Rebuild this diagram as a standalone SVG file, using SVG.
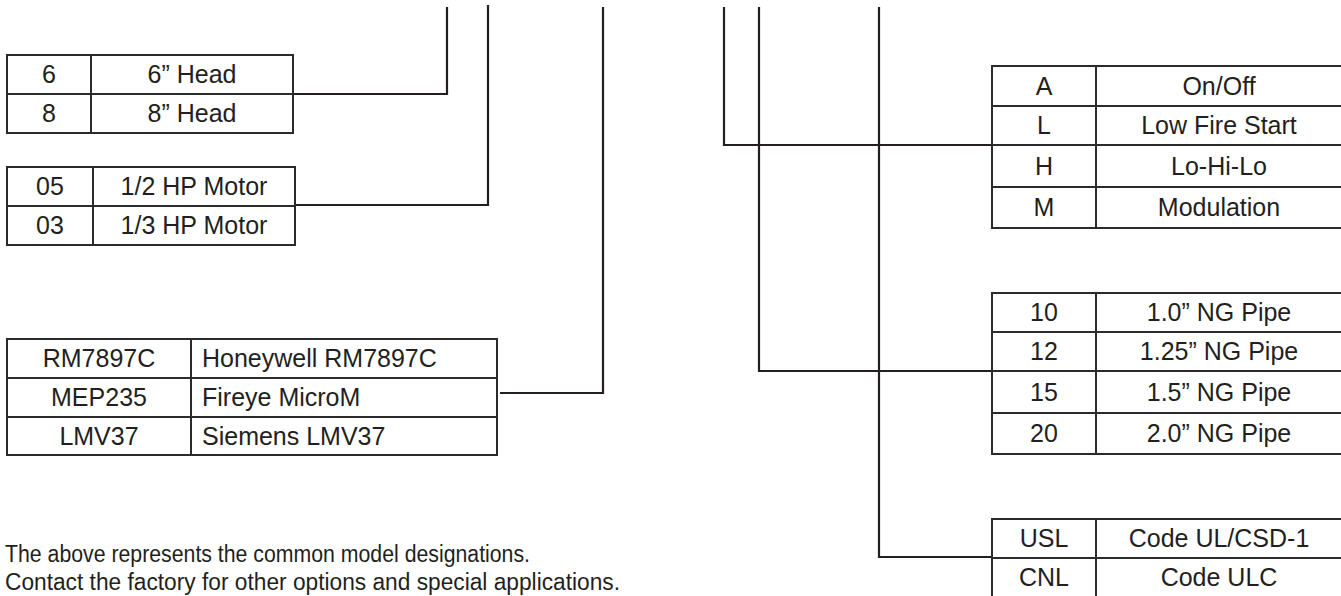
<svg xmlns="http://www.w3.org/2000/svg" width="1341" height="596" viewBox="0 0 1341 596">
<style>
.cell{fill:#fff;stroke:#2b2b2b;stroke-width:2}
.grid{stroke:#2b2b2b;stroke-width:2;fill:none}
.conn{stroke:#231f20;stroke-width:2.2;fill:none}
text{font-family:"Liberation Sans",Arial,sans-serif;font-size:25px;fill:#231f20}
.c{text-anchor:middle}
.note{font-size:23px}
</style>
<rect width="1341" height="596" fill="#fff"/>
<g id="connectors">
<polyline class="conn" points="293,94 447,94 447,7"/>
<polyline class="conn" points="295,205 488,205 488,5"/>
<polyline class="conn" points="500,393 603,393 603,7"/>
<polyline class="conn" points="724,7 724,145 992,145"/>
<polyline class="conn" points="759,7 759,371 992,371"/>
<polyline class="conn" points="879,7 879,557 992,557"/>
</g>
<g id="head">
<rect class="cell" x="7" y="55" width="286" height="78"/>
<path class="grid" d="M91,55V133M7,94H293"/>
<text class="c" x="49" y="83">6</text><text class="c" x="192" y="83">6” Head</text>
<text class="c" x="49" y="122">8</text><text class="c" x="192" y="122">8” Head</text>
</g>
<g id="motor">
<rect class="cell" x="7" y="167" width="288" height="78"/>
<path class="grid" d="M93,167V245M7,206H295"/>
<text class="c" x="50" y="195">05</text><text class="c" x="194" y="195">1/2 HP Motor</text>
<text class="c" x="50" y="234">03</text><text class="c" x="194" y="234">1/3 HP Motor</text>
</g>
<g id="control">
<rect class="cell" x="7" y="339" width="490" height="116"/>
<path class="grid" d="M191,339V455M7,378H497M7,417H497"/>
<text class="c" x="99" y="367">RM7897C</text><text x="202" y="367">Honeywell RM7897C</text>
<text class="c" x="99" y="406">MEP235</text><text x="202" y="406">Fireye MicroM</text>
<text class="c" x="99" y="445">LMV37</text><text x="202" y="445">Siemens LMV37</text>
</g>
<g id="firing">
<rect class="cell" x="992" y="66" width="352" height="162"/>
<path class="grid" d="M1096,66V228M992,106H1344M992,145H1344M992,187H1344"/>
<text class="c" x="1044" y="95">A</text><text class="c" x="1219" y="95">On/Off</text>
<text class="c" x="1044" y="134">L</text><text class="c" x="1219" y="134">Low Fire Start</text>
<text class="c" x="1044" y="175">H</text><text class="c" x="1219" y="175">Lo-Hi-Lo</text>
<text class="c" x="1044" y="216">M</text><text class="c" x="1219" y="216">Modulation</text>
</g>
<g id="pipe">
<rect class="cell" x="992" y="293" width="352" height="161"/>
<path class="grid" d="M1096,293V454M992,332H1344M992,371H1344M992,413H1344"/>
<text class="c" x="1044" y="321">10</text><text class="c" x="1219" y="321">1.0” NG Pipe</text>
<text class="c" x="1044" y="360">12</text><text class="c" x="1219" y="360">1.25” NG Pipe</text>
<text class="c" x="1044" y="401">15</text><text class="c" x="1219" y="401">1.5” NG Pipe</text>
<text class="c" x="1044" y="442">20</text><text class="c" x="1219" y="442">2.0” NG Pipe</text>
</g>
<g id="code">
<rect class="cell" x="992" y="519" width="352" height="79"/>
<path class="grid" d="M1096,519V598M992,558H1344"/>
<text class="c" x="1044" y="547">USL</text><text class="c" x="1219" y="547">Code UL/CSD-1</text>
<text class="c" x="1044" y="586">CNL</text><text class="c" x="1219" y="586">Code ULC</text>
</g>
<g id="note">
<text class="note" x="5" y="562" textLength="525" lengthAdjust="spacingAndGlyphs">The above represents the common model designations.</text>
<text class="note" x="5" y="590" textLength="615" lengthAdjust="spacingAndGlyphs">Contact the factory for other options and special applications.</text>
</g>
</svg>
